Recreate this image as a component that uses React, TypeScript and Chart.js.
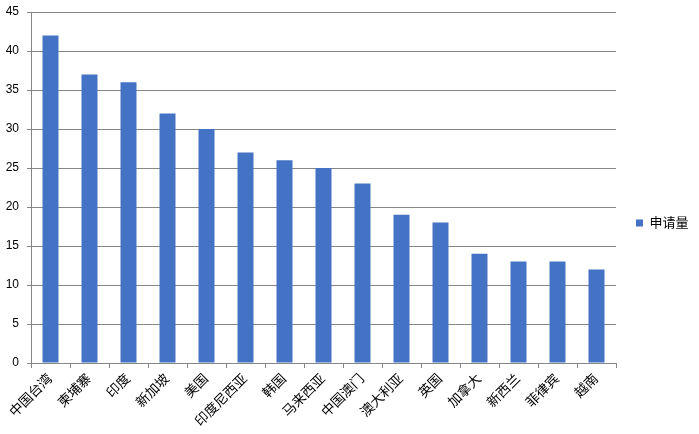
import React, { useEffect, useRef } from "react";
import { Chart, registerables } from "chart.js";

Chart.register(...registerables);

const categories = ["中国台湾", "柬埔寨", "印度", "新加坡", "美国", "印度尼西亚", "韩国", "马来西亚", "中国澳门", "澳大利亚", "英国", "加拿大", "新西兰", "菲律宾", "越南"];
const seriesName = "申请量";
const values = [42, 37, 36, 32, 30, 27, 26, 25, 23, 19, 18, 14, 13, 13, 12];
const yMax = 45;
const yStep = 5;

const FONT = '"Liberation Sans", "Noto Sans CJK SC", sans-serif';
const BAR = "#4472C4";
const GRID = "#868686";

const legendWidthPlugin = {
  id: "legendWidth",
  afterInit(chart: any) {
    const lg = chart.legend;
    if (!lg) return;
    const orig = lg.fit;
    lg.fit = function () {
      orig.call(this);
      this.width = 83;
    };
  },
};

export default function App() {
  const ref = useRef<HTMLCanvasElement>(null);
  useEffect(() => {
    if (!ref.current) return;
    const chart = new Chart(ref.current, {
      type: "bar",
      data: {
        labels: categories,
        datasets: [
          {
            label: seriesName,
            data: values,
            backgroundColor: BAR,
            borderWidth: 0,
            barPercentage: 0.41,
            categoryPercentage: 1,
          },
        ],
      },
      plugins: [legendWidthPlugin],
      options: {
        animation: false,
        responsive: false,
        maintainAspectRatio: false,
        layout: { padding: { top: 12, left: 0, right: 0, bottom: 0 } },
        plugins: {
          tooltip: { enabled: false },
          legend: {
            position: "right",
            align: "center",
            labels: {
              boxWidth: 7,
              boxHeight: 7,
              color: "#000",
              font: { family: FONT, size: 13 },
              padding: 20,
            },
          },
        },
        scales: {
          x: {
            offset: true,
            grid: {
              offset: true,
              drawOnChartArea: false,
              drawTicks: true,
              tickLength: 5,
              color: GRID,
            },
            border: { color: GRID, width: 1 },
            ticks: {
              color: "#000",
              font: { family: FONT, size: 13.5 },
              minRotation: 45,
              maxRotation: 45,
              autoSkip: false,
              padding: 3,
            },
            afterFit: (s: any) => {
              s.height = 71;
              s.paddingLeft = 0;
              s.paddingRight = 0;
            },
          },
          y: {
            min: 0,
            max: yMax,
            ticks: {
              stepSize: yStep,
              color: "#000",
              font: { family: FONT, size: 12 },
              padding: 8,
            },
            grid: { color: GRID, drawTicks: true, tickLength: 4, lineWidth: 1 },
            border: { color: GRID, width: 1 },
            afterFit: (s: any) => {
              s.width = 31;
              s.paddingTop = 0;
              s.paddingBottom = 0;
            },
          },
        },
      },
    });
    return () => chart.destroy();
  }, []);
  return (
    <div style={{ position: "fixed", left: 0, top: 0, width: 699, height: 434, background: "#fff" }}>
      <canvas ref={ref} width={699} height={434} style={{ display: "block" }} />
    </div>
  );
}
